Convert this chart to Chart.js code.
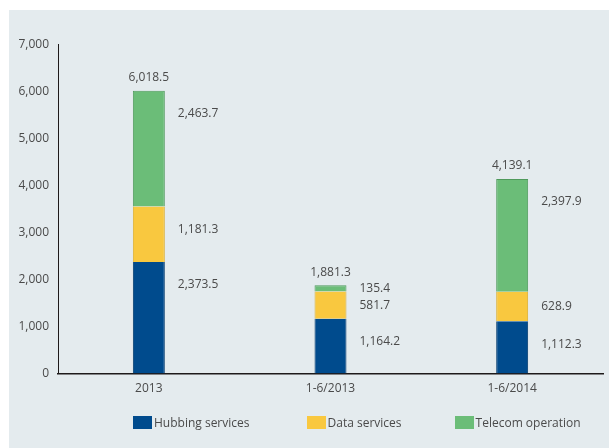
<!DOCTYPE html>
<html>
<head>
<meta charset="utf-8">
<script src="https://cdn.jsdelivr.net/npm/chart.js@4/dist/chart.umd.min.js"></script>
<style>
  html, body { margin: 0; padding: 0; background: #fff; }
  #wrap { position: relative; width: 609px; height: 448px; overflow: hidden; }
  #panel { position: absolute; left: 9px; top: 10px; width: 600px; height: 438px; background: #e4ebee; }
  canvas { position: absolute; left: 0; top: 0; }
  #legend { position: absolute; left: 133px; top: 414px; display: flex; font: 12px "Open Sans", sans-serif; color: #4a4a4a; }
  #legend .item { display: flex; align-items: center; }
  #legend .box { width: 19px; height: 13px; margin-right: 2px; }
</style>
</head>
<body>
<div id="wrap">
  <div id="panel"></div>
  <canvas id="chart" width="609" height="448"></canvas>
  <div id="legend"></div>
</div>
<script>
  const categories = ['2013', '1-6/2013', '1-6/2014'];
  const hubbing = [2373.5, 1164.2, 1112.3];
  const dataServices = [1181.3, 581.7, 628.9];
  const telecom = [2463.7, 135.4, 2397.9];
  const yTicks = [0, 1000, 2000, 3000, 4000, 5000, 6000, 7000];

  const seriesNames = ['Hubbing services', 'Data services', 'Telecom operation'];
  const seriesColors = ['#004b8d', '#f9c83f', '#6bbd78'];
  const edgeColors = ['#003a6e', '#dcae2e', '#4f9a5c'];

  const fontFamily = '"Open Sans", sans-serif';
  const textColor = '#4a4a4a';

  const fmt = v => v.toLocaleString('en-US', { minimumFractionDigits: 1, maximumFractionDigits: 1 });

  // labels next to each segment + totals on top
  const valueLabels = {
    id: 'valueLabels',
    afterDatasetsDraw(chart) {
      const ctx = chart.ctx;
      ctx.save();
      ctx.font = '12px ' + fontFamily;
      ctx.fillStyle = textColor;
      ctx.textBaseline = 'middle';
      chart.data.datasets.forEach((ds, di) => {
        const meta = chart.getDatasetMeta(di);
        meta.data.forEach((bar, i) => {
          const top = Math.min(bar.y, bar.base);
          const h = Math.abs(bar.base - bar.y);
          ctx.textAlign = 'left';
          ctx.fillText(fmt(ds.data[i]), bar.x + bar.width / 2 + 13, top + Math.min(h / 2, 23));
        });
      });
      const lastMeta = chart.getDatasetMeta(chart.data.datasets.length - 1);
      lastMeta.data.forEach((bar, i) => {
        const total = hubbing[i] + dataServices[i] + telecom[i];
        ctx.textAlign = 'center';
        ctx.fillText(fmt(total), bar.x, bar.y - 13);
      });
      ctx.restore();
    }
  };

  const datasets = [hubbing, dataServices, telecom].map((d, i) => ({
    label: seriesNames[i],
    data: d,
    backgroundColor: seriesColors[i],
    borderColor: edgeColors[i],
    borderWidth: i === 2 ? { left: 1, right: 1, top: 1, bottom: 0 } : { left: 1, right: 1, top: 0, bottom: 0 },
    borderSkipped: false,
    barPercentage: 0.176,
    categoryPercentage: 1
  }));

  new Chart(document.getElementById('chart'), {
    type: 'bar',
    data: { labels: categories, datasets },
    options: {
      responsive: false,
      animation: false,
      layout: { padding: { left: 0, right: 6, top: 44.5, bottom: 44 } },
      plugins: {
        legend: { display: false },
        tooltip: { enabled: false }
      },
      scales: {
        x: {
          stacked: true,
          grid: { display: false, drawTicks: false },
          border: { display: true, color: '#1e1a1a', width: 1.5 },
          ticks: { color: textColor, font: { family: fontFamily, size: 12 }, padding: 8 }
        },
        y: {
          stacked: true,
          min: 0,
          max: 7000,
          afterBuildTicks: axis => { axis.ticks = yTicks.map(v => ({ value: v })); },
          afterFit: axis => { axis.width = 58; },
          grid: { display: false, drawTicks: false },
          border: { display: true, color: '#1e1a1a', width: 1 },
          ticks: {
            color: textColor,
            font: { family: fontFamily, size: 12 },
            padding: 9,
            callback: v => v.toLocaleString('en-US')
          }
        }
      }
    },
    plugins: [valueLabels]
  });

  // legend
  const legend = document.getElementById('legend');
  const gaps = [57, 53, 0];
  seriesNames.forEach((name, i) => {
    const item = document.createElement('div');
    item.className = 'item';
    item.style.marginRight = gaps[i] + 'px';
    item.innerHTML = '<span class="box" style="background:' + seriesColors[i] + '"></span><span>' + name + '</span>';
    legend.appendChild(item);
  });
</script>
</body>
</html>
